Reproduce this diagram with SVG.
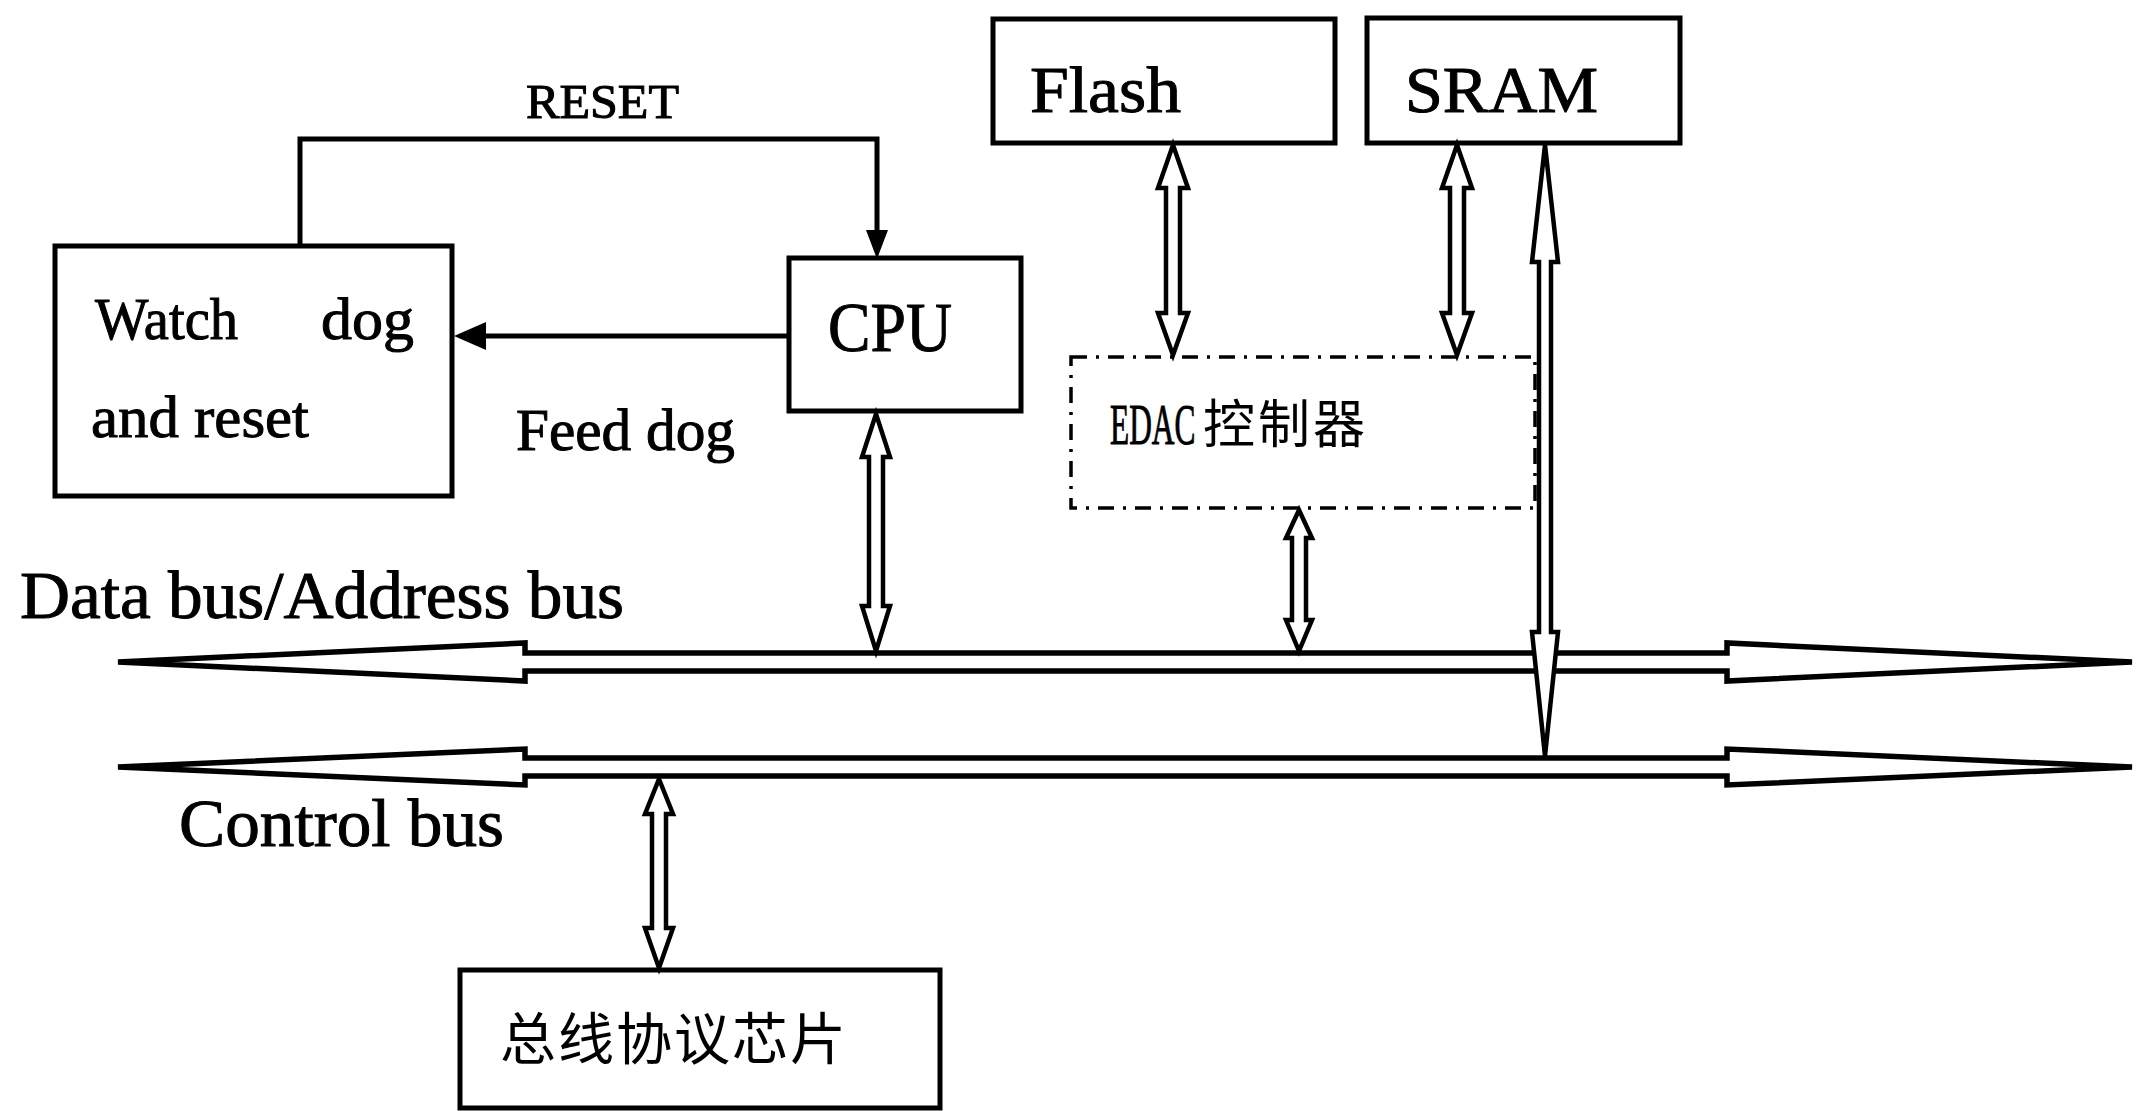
<svg xmlns="http://www.w3.org/2000/svg" width="2139" height="1111" viewBox="0 0 2139 1111">
<style>
  .box { fill: #ffffff; stroke: #000000; stroke-width: 5; }
  .dashbox { fill: none; stroke: #000000; stroke-width: 3.5; stroke-dasharray: 16 9 3 9; }
  .t { font-family: "Liberation Serif", "Times New Roman", serif; fill: #000000; stroke: #000000; stroke-width: 1; }
  .cjk { font-family: "Noto Sans CJK SC", sans-serif; fill: #000000; }
  .wire { fill: none; stroke: #000000; stroke-width: 5; }
  .hollow { fill: #ffffff; stroke: #000000; stroke-width: 4.5; stroke-linejoin: miter; }
  .bus { fill: #ffffff; stroke: #000000; stroke-width: 5.5; stroke-linejoin: miter; }
  .head { fill: #000000; stroke: none; }
</style>
<rect x="0" y="0" width="2139" height="1111" fill="#ffffff"/>

<g id="data-bus">
  <polygon class="bus" points="118,662 525,643 525,653 1727,653 1727,643 2132,662 1727,681 1727,671 525,671 525,681"/>
  <text class="t" x="20" y="618" font-size="68" textLength="604" lengthAdjust="spacingAndGlyphs">Data bus/Address bus</text>
</g>
<g id="control-bus">
  <polygon class="bus" points="118,767 525,749 525,758 1727,758 1727,749 2132,767 1727,785 1727,776 525,776 525,785"/>
  <text class="t" x="179" y="846" font-size="68" textLength="325" lengthAdjust="spacingAndGlyphs">Control bus</text>
</g>

<g id="watchdog">
  <rect class="box" x="55" y="246" width="397" height="250"/>
  <text class="t" x="95" y="339" font-size="60" textLength="143" lengthAdjust="spacingAndGlyphs">Watch</text>
  <text class="t" x="321" y="339" font-size="60" textLength="93" lengthAdjust="spacingAndGlyphs">dog</text>
  <text class="t" x="91" y="437" font-size="60" textLength="218" lengthAdjust="spacingAndGlyphs">and reset</text>
</g>

<g id="cpu">
  <rect class="box" x="789" y="258" width="232" height="153"/>
  <text class="t" x="828" y="351" font-size="70" textLength="124" lengthAdjust="spacingAndGlyphs">CPU</text>
</g>

<g id="flash">
  <rect class="box" x="993" y="19" width="342" height="124"/>
  <text class="t" x="1030" y="112" font-size="66" textLength="151" lengthAdjust="spacingAndGlyphs">Flash</text>
</g>

<g id="sram">
  <rect class="box" x="1367" y="18" width="313" height="125"/>
  <text class="t" x="1405" y="112" font-size="66" textLength="193" lengthAdjust="spacingAndGlyphs">SRAM</text>
</g>

<g id="edac">
  <rect class="dashbox" x="1071" y="357" width="464" height="151"/>
  <text class="t" transform="translate(1110,444) scale(0.56,1)" x="0" y="0" font-size="56" stroke-width="0.6">EDAC</text>
  <text class="cjk" x="1203" y="443" font-size="52" letter-spacing="3">控制器</text>
</g>

<g id="bus-chip">
  <rect class="box" x="460" y="970" width="480" height="138"/>
  <text class="cjk" x="500" y="1059" font-size="56" letter-spacing="2">总线协议芯片</text>
</g>

<g id="connectors">
  <!-- RESET: watchdog -> CPU -->
  <polyline class="wire" points="300,246 300,139 877,139 877,234"/>
  <polygon class="head" points="866,230 888,230 877,259"/>
  <text class="t" x="526" y="118" font-size="48" textLength="153" lengthAdjust="spacingAndGlyphs">RESET</text>

  <!-- Feed dog: CPU -> watchdog -->
  <line class="wire" x1="789" y1="336" x2="480" y2="336"/>
  <polygon class="head" points="454,336 486,322 486,350"/>
  <text class="t" x="516" y="450" font-size="60" textLength="219" lengthAdjust="spacingAndGlyphs">Feed dog</text>

  <!-- CPU <-> data bus -->
  <polygon class="hollow" points="876,414 890,457 883,457 883,606 890,606 876,651 862,606 869,606 869,457 862,457"/>
  <!-- Flash <-> EDAC -->
  <polygon class="hollow" points="1173,145 1188,188 1180,188 1180,313 1188,313 1173,355 1158,313 1166,313 1166,188 1158,188"/>
  <!-- SRAM <-> EDAC -->
  <polygon class="hollow" points="1457,145 1472,188 1464,188 1464,313 1472,313 1457,355 1442,313 1450,313 1450,188 1442,188"/>
  <!-- EDAC <-> data bus -->
  <polygon class="hollow" points="1299,510 1312,538 1306,538 1306,620 1312,620 1299,651 1286,620 1292,620 1292,538 1286,538"/>
  <!-- control bus <-> bus chip -->
  <polygon class="hollow" points="659,779 673,814 666,814 666,928 673,928 659,968 645,928 652,928 652,814 645,814"/>
  <!-- SRAM <-> control bus (long) -->
  <polygon class="hollow" stroke-width="6" points="1545,145 1558,262 1551,262 1551,632 1558,632 1545,756 1532,632 1539,632 1539,262 1532,262"/>
</g>
</svg>
